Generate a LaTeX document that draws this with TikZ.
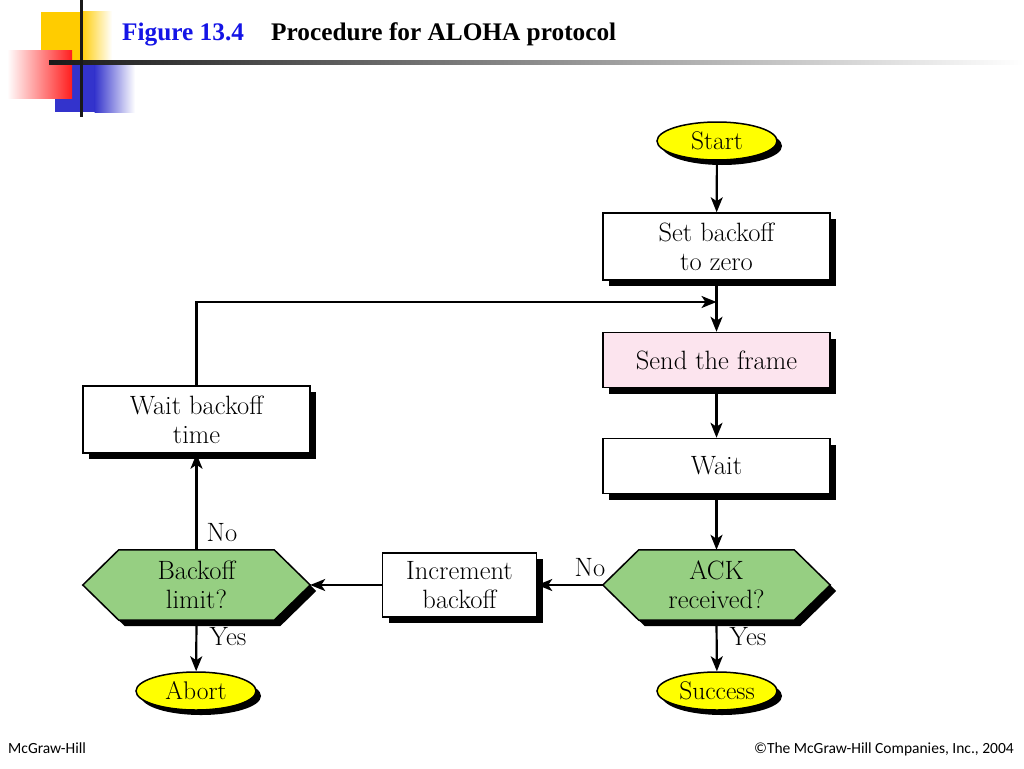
\documentclass[tikz,border=0pt]{standalone}
\usepackage{fontspec}
\newfontfamily\titlefont{Liberation Serif}
\newfontfamily\footfont{Carlito}
\usetikzlibrary{shapes.geometric,shadows,arrows.meta,calc,backgrounds}
\definecolor{hexgreen}{RGB}{150,207,130}
\definecolor{framepink}{RGB}{252,228,238}
\definecolor{ovalyellow}{RGB}{255,255,0}
\definecolor{decoyellow}{RGB}{255,204,0}
\definecolor{decored}{RGB}{255,30,30}
\definecolor{decoblue}{RGB}{51,51,204}
\definecolor{titleblue}{RGB}{20,20,230}
\begin{document}
\begin{tikzpicture}[x=1pt,y=-1pt,
  shadowed/.style={drop shadow={shadow xshift=6pt,shadow yshift=-6pt,fill=black,opacity=1}},
  box/.style={rectangle,draw=black,line width=1.5pt,fill=white,minimum width=227pt,
    minimum height=#1,inner sep=0pt,align=center,font=\fontsize{26.5}{29}\selectfont,shadowed},
  oval/.style={ellipse,draw=black,line width=1.5pt,fill=ovalyellow,minimum width=120pt,
    minimum height=38pt,inner sep=0pt,font=\fontsize{25.5}{28}\selectfont,
    drop shadow={shadow xshift=5pt,shadow yshift=-5pt,fill=black,opacity=1}},
  hexnode/.style={rectangle,minimum width=227pt,minimum height=70pt,inner sep=0pt,
    align=center,font=\fontsize{26.5}{29}\selectfont},
  lbl/.style={font=\fontsize{26.5}{29}\selectfont,inner sep=0pt},
  arr/.style={line width=2.2pt,-{Stealth[length=15pt,width=12pt,inset=4pt]}},
  conn/.style={line width=2.2pt}
]
\useasboundingbox (0,0) rectangle (1024,768);

% decoration
\fill[decoyellow] (41,12) rectangle (81,60);
\shade[left color=decoyellow,right color=white] (80.5,12) rectangle (112,60);
\fill[decoblue] (55,63) rectangle (95,112);
\shade[left color=decoblue,right color=white] (94.5,63) rectangle (135,112);
\shade[left color=white,right color=decored] (7,51) rectangle (72,98);
\shade[left color=black!90,right color=white] (49,60) rectangle (1024,64);
\fill[black!90] (79.5,0) rectangle (82.5,117);

% title
\node[anchor=base west,inner sep=0pt,text=titleblue,font=\titlefont\bfseries\fontsize{25.3}{28}\selectfont] (fig) at (122,41) {Figure 13.4};
\node[anchor=base west,inner sep=0pt,font=\titlefont\bfseries\fontsize{25.3}{28}\selectfont] (ttl) at (271,41) {Procedure for ALOHA protocol};

% nodes
\node[oval] (start) at (717,141) {Start};
\node[box=67pt] (setb) at (716.5,246.5) {Set backoff\\to zero};
\node[box=55pt,fill=framepink] (send) at (716.5,360) {Send the frame};
\node[box=55pt] (wait) at (716.5,466) {Wait};
\node[hexnode] (ack) at (716.5,585) {ACK\\received?};
\node[box=64pt,minimum width=154pt] (inc) at (459.5,585) {Increment\\backoff};
\node[hexnode] (blim) at (196.5,585) {Backoff\\limit?};
\node[box=67pt] (wbt) at (196.5,419.5) {Wait backoff\\time};
\node[oval] (abort) at (196,691) {Abort};
\node[oval] (succ) at (717,691) {Success};

\begin{scope}[on background layer]
  \fill[white] (0,0) rectangle (1024,768);
  \foreach \h in {ack,blim}{
    \fill[black] ($(\h.west)+(6,6)$) -- ($(\h.north west)+(42,6)$) -- ($(\h.north east)+(-30,6)$)
      -- ($(\h.east)+(6,6)$) -- ($(\h.south east)+(-30,6)$) -- ($(\h.south west)+(42,6)$) -- cycle;
    \filldraw[fill=hexgreen,draw=black,line width=1.5pt] (\h.west) -- ($(\h.north west)+(36,0)$)
      -- ($(\h.north east)+(-36,0)$) -- (\h.east) -- ($(\h.south east)+(-36,0)$)
      -- ($(\h.south west)+(36,0)$) -- cycle;
  }
\end{scope}

% connectors
\coordinate (join) at (716.5,302);
\draw[arr] (start) -- (setb);
\draw[arr] (setb) -- (send);
\draw[arr] (wbt.north) |- (join);
\draw[arr] (send) -- (wait);
\draw[arr] (wait) -- (ack);
\draw[arr] (ack.west) -- (inc.east);
\draw[arr] (inc.west) -- (blim.east);
\draw[arr] (blim.north) -- (wbt.south);
\draw[arr] (blim.south) -- (abort);
\draw[arr] (ack.south) -- (succ);

% labels
\node[lbl] (noa) at (590,568) {No};
\node[lbl] (nob) at (222,533) {No};
\node[lbl] (yesb) at (228,637) {Yes};
\node[lbl] (yesa) at (748,637) {Yes};

% footer
\node[anchor=base west,inner sep=0pt,font=\footfont\fontsize{15.5}{17}\selectfont] (mg) at (8,753) {McGraw-Hill};
\node[anchor=base east,inner sep=0pt,font=\footfont\fontsize{15.5}{17}\selectfont] (cp) at (1014,753) {©The McGraw-Hill Companies, Inc., 2004};
\end{tikzpicture}
\end{document}
